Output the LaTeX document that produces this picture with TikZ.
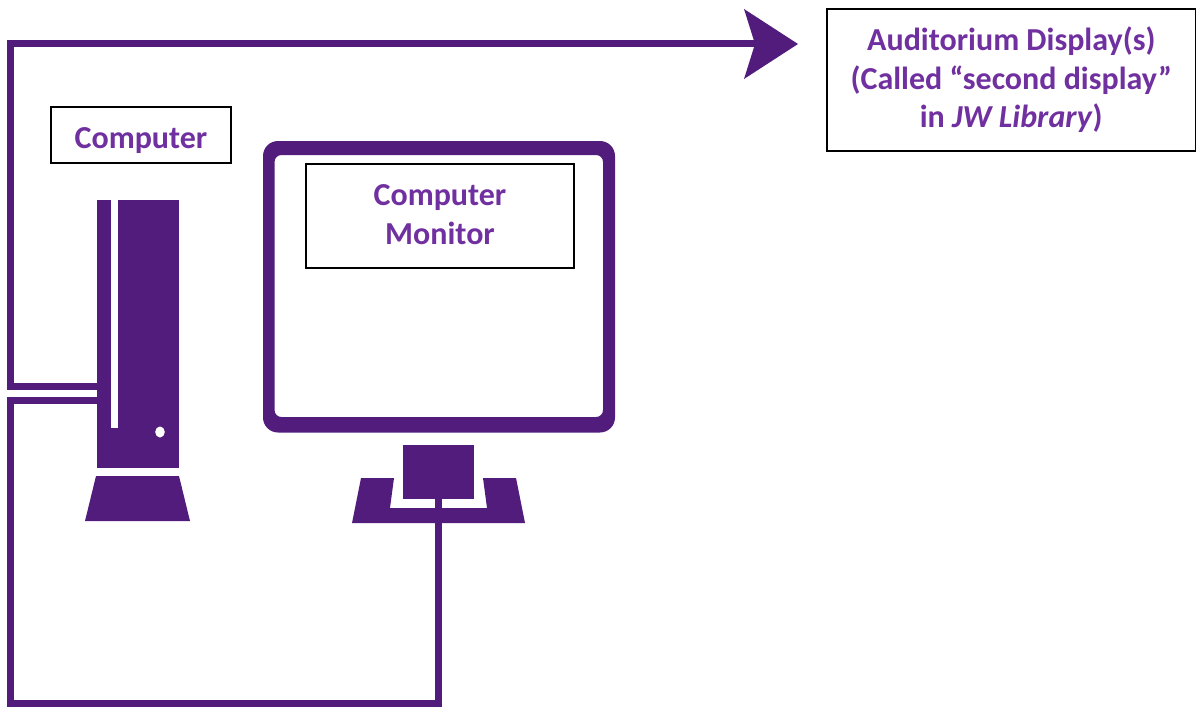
\documentclass[tikz,border=0pt]{standalone}
\usepackage{fontspec}
\setmainfont{Carlito}
\definecolor{jwpurple}{HTML}{521C7C}
\definecolor{labelpurple}{HTML}{7030A0}
\tikzset{
  x=1pt,y=-1pt,
  solidpart/.style={fill=jwpurple,draw=none,inner sep=0pt,outer sep=0pt,anchor=north west},
  wire/.style={draw=jwpurple,line width=7pt,line join=miter},
  labelbox/.style={draw=black,line width=2pt,fill=white,text=labelpurple,font=\fontsize{32}{38.5}\selectfont\bfseries,align=center,inner sep=0pt,outer sep=0pt,anchor=north west}
}
\begin{document}
\begin{tikzpicture}
\useasboundingbox (0,0) rectangle (1196,707);
% tower
\node[solidpart,minimum width=82pt,minimum height=268pt] (tower) at (97,200) {};
\fill[white] (110.5,200) rectangle (117.5,428);
\fill[white] (160,432) ellipse [x radius=4.8,y radius=5.5];
\fill[jwpurple] (96,476) -- (179,476) -- (190,521) -- (85,521) -- cycle;
% monitor
\fill[jwpurple,even odd rule,rounded corners=15pt] (263,141) rectangle (615,432.5) [rounded corners=7pt] (274.5,155) rectangle (603,417);
\node[solidpart,minimum width=71pt,minimum height=54pt] (stand) at (403,445) {};
\fill[jwpurple] (361,478) -- (394,478) -- (390,508) -- (487,508) -- (483,478) -- (516,478) -- (525,523) -- (352,523) -- cycle;
\fill[jwpurple] (435,499) rectangle (441.7,508);
% connectors
\coordinate (corner1) at (10.5,43.5);
\coordinate (tip) at (798,44);
\coordinate (upperport) at (97,386);
\coordinate (lowerport) at (97,400.5);
\coordinate (lowerleft) at (10.5,400.5);
\coordinate (upperleft) at (10.5,386);
\coordinate (bottomleft) at (10.5,703.5);
\coordinate (bottomright) at (438.5,703.5);
\coordinate (standfoot) at (438.5,523);
\draw[wire] (upperport) -- (upperleft) -- (corner1) -- (760,43.5);
\fill[jwpurple] (tip) -- (744,9) -- (755,44) -- (744,79) -- cycle;
\draw[wire] (lowerport) -- (lowerleft) -- (bottomleft) -- (bottomright) -- (standfoot);
% labels
\node[labelbox,minimum width=180pt,minimum height=56pt] (computer) at (51,107) {\raisebox{-13pt}[0pt][0pt]{Computer}};
\node[labelbox,minimum width=268pt,minimum height=104pt] (monitorlabel) at (306,164) {Computer\\Monitor\\[-35.5pt]\mbox{}};
\node[labelbox,minimum width=369.5pt,minimum height=142pt] (auditorium) at (826.5,9) {Auditorium Display(s)\\(Called “second display”\\in \textit{JW Library})};
\end{tikzpicture}
\end{document}
